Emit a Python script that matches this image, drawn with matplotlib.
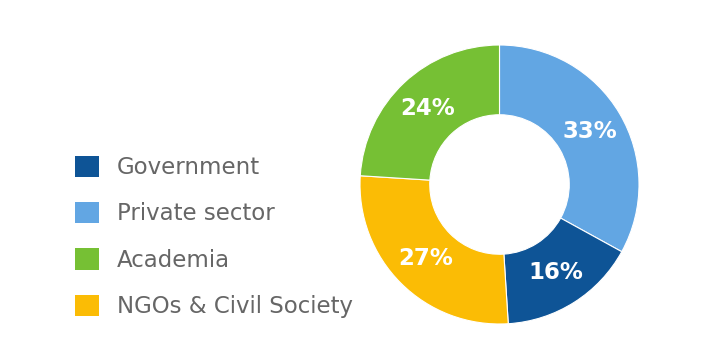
import matplotlib.pyplot as plt
from matplotlib.patches import Patch

# wedge order, clockwise from 12 o'clock
sectors = ['Private sector', 'Government', 'NGOs & Civil Society', 'Academia']
shares = [33, 16, 27, 24]
colors = ['#62a6e3', '#0e5496', '#fbbc05', '#76c034']

legend_order = ['Government', 'Private sector', 'Academia', 'NGOs & Civil Society']

fig = plt.figure(figsize=(7.08, 3.62), dpi=100)
ax = fig.add_axes([360 / 708, 38 / 362, 279 / 708, 279 / 362])

wedges, texts, autotexts = ax.pie(
    shares, colors=colors, startangle=90, counterclock=False,
    autopct='%d%%', pctdistance=0.75, radius=1.0,
    wedgeprops=dict(width=0.5, edgecolor='white', linewidth=0.8),
    textprops=dict(color='white', fontsize=16.5, fontweight='bold'))
ax.set_xlim(-1, 1)
ax.set_ylim(-1, 1)
ax.set_aspect('equal')

handles = [Patch(facecolor=colors[sectors.index(s)], edgecolor='none') for s in legend_order]
leg = fig.legend(handles, legend_order, loc='upper left',
                 bbox_to_anchor=(54 / 708, 1 - 135 / 362),
                 frameon=False, fontsize=16.5, handlelength=1.05, handleheight=1.05,
                 handletextpad=0.8, labelspacing=1.0)
for t in leg.get_texts():
    t.set_color('#666666')

fig.savefig('out.png', dpi=100)
